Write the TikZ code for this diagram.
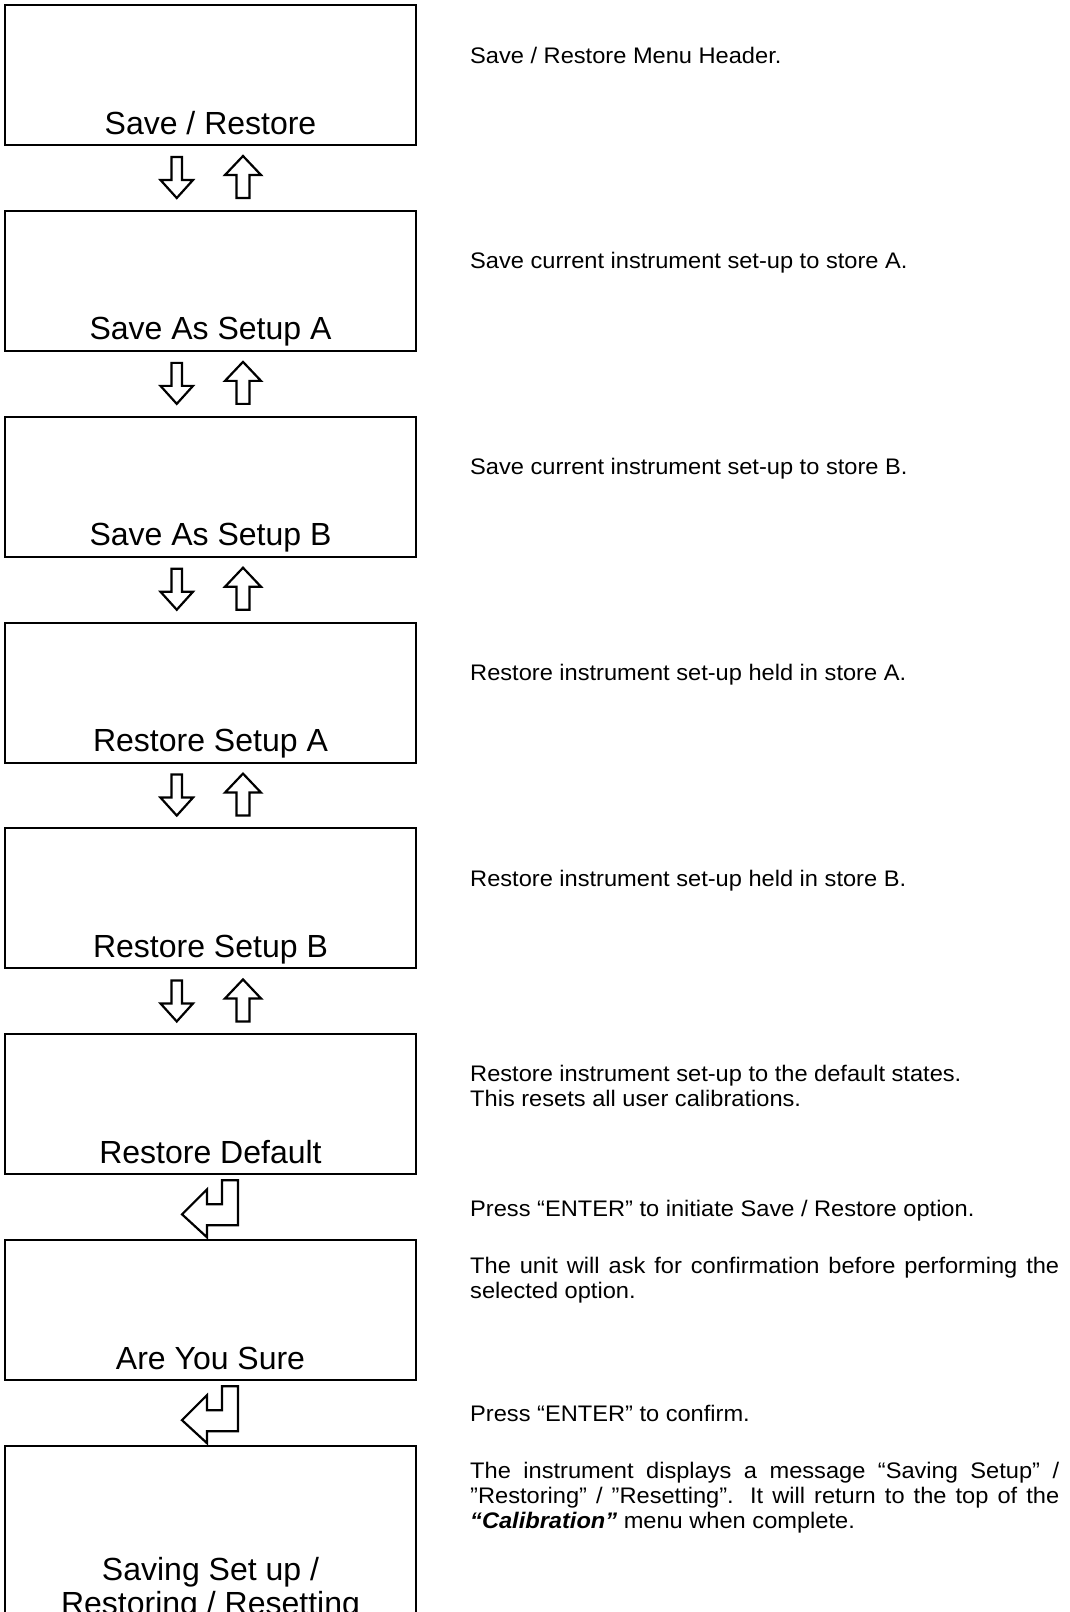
\documentclass[tikz,border=0pt]{standalone}
\usepackage{fontspec}
\setmainfont{Liberation Sans}
\newfontfamily\descfont[FakeStretch=1.05]{Liberation Sans}
\begin{document}
\begin{tikzpicture}[x=1pt,y=-1pt,
  box/.style={draw,line width=2pt,minimum width=411pt,minimum height=140pt,anchor=north west,inner sep=0pt,outer sep=0pt},
  lbl/.style={font=\fontsize{32}{36}\selectfont,anchor=base,inner sep=0pt},
  desc/.style={font=\descfont\fontsize{22.5}{26}\selectfont,anchor=base west,inner sep=0pt},
  arr/.style={draw,line width=2.2pt,line join=miter,miter limit=10},
]
\clip (0,0) rectangle (1069,1612);
\fill[white] (0,0) rectangle (1069,1612);
% boxes
\node[box] (b1) at (5,5) {};
\node[box] (b2) at (5,210.86) {};
\node[box] (b3) at (5,416.72) {};
\node[box] (b4) at (5,622.58) {};
\node[box] (b5) at (5,828.44) {};
\node[box] (b6) at (5,1034.3) {};
\node[box] (b7) at (5,1240.16) {};
\node[box,minimum height=200pt] (b8) at (5,1446.02) {};
% labels
\node[lbl] (l1) at (210.5,134) {Save / Restore};
\node[lbl] (l2) at (210.5,339.86) {Save As Setup A};
\node[lbl] (l3) at (210.5,545.72) {Save As Setup B};
\node[lbl] (l4) at (210.5,751.58) {Restore Setup A};
\node[lbl] (l5) at (210.5,957.44) {Restore Setup B};
\node[lbl] (l6) at (210.5,1163.3) {Restore Default};
\node[lbl] (l7) at (210.5,1369.16) {Are You Sure};
\node[lbl] (l8a) at (210.5,1580) {Saving Set up /};
\node[lbl] (l8b) at (210.5,1614) {Restoring / Resetting};
% up/down arrows
\foreach \B in {145,350.86,556.72,762.58,968.44}{
  \draw[arr] (171.5,\B+12) -- (182,\B+12) -- (182,\B+35) -- (193,\B+35) -- (176.75,\B+53) -- (160.5,\B+35) -- (171.5,\B+35) -- cycle;
  \draw[arr] (236.5,\B+53) -- (249.5,\B+53) -- (249.5,\B+30) -- (261,\B+30) -- (243,\B+11) -- (225,\B+30) -- (236.5,\B+30) -- cycle;
}
% enter symbols
\foreach \B in {1174.3,1380.16}{
  \draw[arr] (222,\B+6) -- (238,\B+6) -- (238,\B+51) -- (207,\B+51) -- (207,\B+63) -- (182,\B+40) -- (207,\B+15) -- (207,\B+30) -- (222,\B+30) -- cycle;
}
% descriptions
\node[desc] (d1) at (470,63) {Save / Restore Menu Header.};
\node[desc] (d2) at (470,268.86) {Save current instrument set-up to store A.};
\node[desc] (d3) at (470,474.72) {Save current instrument set-up to store B.};
\node[desc] (d4) at (470,680.58) {Restore instrument set-up held in store A.};
\node[desc] (d5) at (470,886.44) {Restore instrument set-up held in store B.};
\node[desc] (d6a) at (470,1081) {Restore instrument set-up to the default states.};
\node[desc] (d6b) at (470,1106) {This resets all user calibrations.};
\node[desc] (e1) at (470,1216) {Press “ENTER” to initiate Save / Restore option.};
\node[desc] (d7a) at (470,1273) {\makebox[589pt][s]{The unit will ask for confirmation before performing the}};
\node[desc] (d7b) at (470,1298) {selected option.};
\node[desc] (e2) at (470,1421) {Press “ENTER” to confirm.};
\node[desc] (d8a) at (470,1478) {\makebox[589pt][s]{The instrument displays a message “Saving Setup” /}};
\node[desc] (d8b) at (470,1503) {\makebox[589pt][s]{”Restoring” / ”Resetting”. It will return to the top of the}};
\node[desc] (d8c) at (470,1528) {\textbf{\textit{“Calibration”}} menu when complete.};
\end{tikzpicture}
\end{document}
